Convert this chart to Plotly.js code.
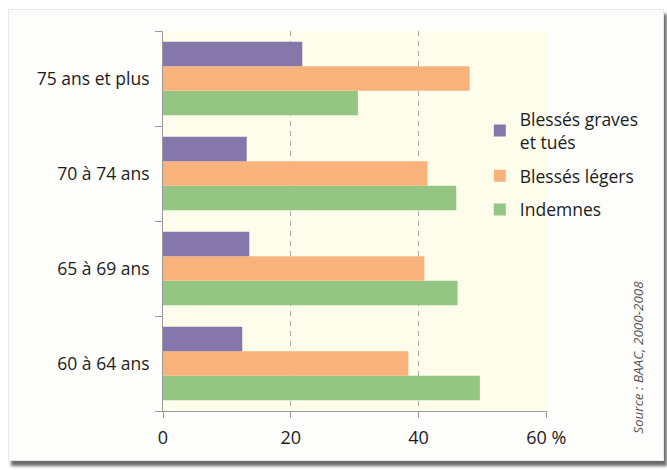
<!DOCTYPE html>
<html>
<head>
<meta charset="utf-8">
<script src="https://cdn.plot.ly/plotly-3.0.1.min.js"></script>
<style>
  html, body { margin: 0; padding: 0; background: #ffffff; }
  #wrap { position: relative; width: 667px; height: 470px; overflow: hidden; }
  #panel { position: absolute; left: 8px; top: 9px; width: 654px; height: 450px;
           background: #fdfdfb; border: 1px solid #e8e8e8;
           box-shadow: 3px 5px 3px #6a6a6a; }
  #chart { position: absolute; left: 0; top: 0; width: 667px; height: 470px; }
</style>
</head>
<body>
<div id="wrap">
  <div id="panel"></div>
  <div id="chart"></div>
</div>
<script>
const categories = ["60 à 64 ans", "65 à 69 ans", "70 à 74 ans", "75 ans et plus"];
const graves = [12.4, 13.5, 13.1, 21.8];
const legers = [38.4, 40.9, 41.4, 48.0];
const indemnes = [49.6, 46.1, 45.9, 30.5];
const xTickVals = [0, 20, 40, 60];
const xTickText = ["0", "20", "40", "60 %"];
const sourceText = "Source : BAAC, 2000-2008";

const FONT = "Open Sans, sans-serif";
const TXT = "#1c1c1c";

const traces = [
  { type: "bar", orientation: "h", name: "Indemnes", y: categories, x: indemnes,
    legendgroup: "c", legendrank: 3, marker: { color: "#94c583" }, hoverinfo: "x+y" },
  { type: "bar", orientation: "h", name: "Blessés légers", y: categories, x: legers,
    legendgroup: "b", legendrank: 2, marker: { color: "#f8b37c" }, hoverinfo: "x+y" },
  { type: "bar", orientation: "h", name: "Blessés graves<br>et tués", y: categories, x: graves,
    legendgroup: "a", legendrank: 1, marker: { color: "#8677ab" }, hoverinfo: "x+y" }
];

const layout = {
  width: 667, height: 470,
  margin: { l: 163, r: 120, t: 31, b: 59 },
  paper_bgcolor: "rgba(0,0,0,0)",
  plot_bgcolor: "#fefdec",
  barmode: "group",
  bargap: 0.228,
  bargroupgap: 0,
  font: { family: FONT, color: TXT, size: 18 },
  xaxis: {
    range: [0, 60.1],
    tickvals: xTickVals, ticktext: xTickText,
    showgrid: true, gridcolor: "#a8a8a8", griddash: "5px,5px", gridwidth: 1,
    zeroline: false,
    showline: true, linecolor: "#9a9a9a", linewidth: 1,
    ticks: "outside", ticklen: 6, tickcolor: "#9a9a9a",
    ticklabelstandoff: 4,
    tickfont: { family: FONT, size: 18, color: TXT },
    fixedrange: true
  },
  yaxis: {
    type: "category",
    showgrid: false, zeroline: false,
    showline: true, linecolor: "#9a9a9a", linewidth: 1,
    ticks: "outside", ticklen: 7, tickcolor: "#9a9a9a",
    tickson: "boundaries",
    ticklabelstandoff: 9,
    tickfont: { family: FONT, size: 17.5, color: TXT },
    fixedrange: true
  },
  showlegend: true,
  legend: {
    x: 0.825, xanchor: "left", y: 0.815, yanchor: "top",
    bgcolor: "rgba(0,0,0,0)",
    traceorder: "grouped",
    tracegroupgap: 8,
    font: { family: FONT, size: 17.5, color: TXT },
    itemwidth: 30
  },
  annotations: [{
    text: "<i>" + sourceText + "</i>",
    xref: "paper", yref: "paper",
    x: 1.237, y: 0.14, xanchor: "center", yanchor: "middle",
    textangle: -90, showarrow: false,
    font: { family: FONT, size: 13.5, color: "#555" }
  }]
};

Plotly.newPlot("chart", traces, layout, { displayModeBar: false, staticPlot: true });
</script>
</body>
</html>
